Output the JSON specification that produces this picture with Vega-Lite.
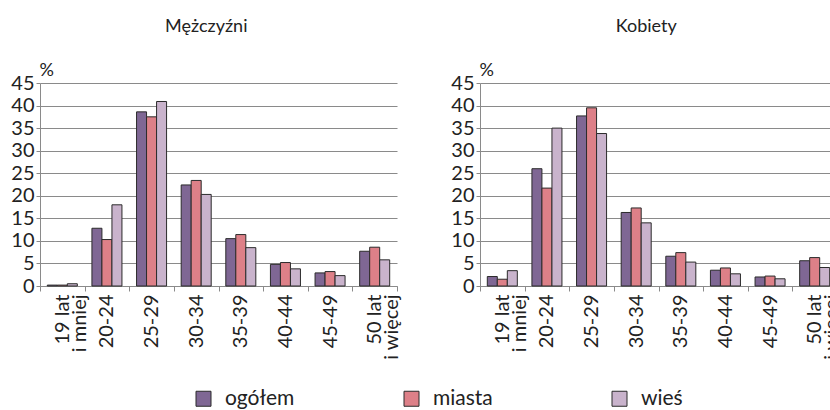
{
  "$schema": "https://vega.github.io/schema/vega-lite/v6.json",
  "padding": {"left": 10, "top": 18, "right": 0, "bottom": 0},
  "background": "white",
  "data": {"values": [
    {"plec": "Mężczyźni", "wiek": "19 lat\ni mniej", "grupa": "ogółem", "wartosc": 0.2},
    {"plec": "Mężczyźni", "wiek": "19 lat\ni mniej", "grupa": "miasta", "wartosc": 0.2},
    {"plec": "Mężczyźni", "wiek": "19 lat\ni mniej", "grupa": "wieś", "wartosc": 0.5},
    {"plec": "Mężczyźni", "wiek": "20-24", "grupa": "ogółem", "wartosc": 12.8},
    {"plec": "Mężczyźni", "wiek": "20-24", "grupa": "miasta", "wartosc": 10.3},
    {"plec": "Mężczyźni", "wiek": "20-24", "grupa": "wieś", "wartosc": 18.0},
    {"plec": "Mężczyźni", "wiek": "25-29", "grupa": "ogółem", "wartosc": 38.6},
    {"plec": "Mężczyźni", "wiek": "25-29", "grupa": "miasta", "wartosc": 37.5},
    {"plec": "Mężczyźni", "wiek": "25-29", "grupa": "wieś", "wartosc": 40.9},
    {"plec": "Mężczyźni", "wiek": "30-34", "grupa": "ogółem", "wartosc": 22.4},
    {"plec": "Mężczyźni", "wiek": "30-34", "grupa": "miasta", "wartosc": 23.4},
    {"plec": "Mężczyźni", "wiek": "30-34", "grupa": "wieś", "wartosc": 20.3},
    {"plec": "Mężczyźni", "wiek": "35-39", "grupa": "ogółem", "wartosc": 10.5},
    {"plec": "Mężczyźni", "wiek": "35-39", "grupa": "miasta", "wartosc": 11.4},
    {"plec": "Mężczyźni", "wiek": "35-39", "grupa": "wieś", "wartosc": 8.5},
    {"plec": "Mężczyźni", "wiek": "40-44", "grupa": "ogółem", "wartosc": 4.8},
    {"plec": "Mężczyźni", "wiek": "40-44", "grupa": "miasta", "wartosc": 5.2},
    {"plec": "Mężczyźni", "wiek": "40-44", "grupa": "wieś", "wartosc": 3.8},
    {"plec": "Mężczyźni", "wiek": "45-49", "grupa": "ogółem", "wartosc": 2.9},
    {"plec": "Mężczyźni", "wiek": "45-49", "grupa": "miasta", "wartosc": 3.2},
    {"plec": "Mężczyźni", "wiek": "45-49", "grupa": "wieś", "wartosc": 2.3},
    {"plec": "Mężczyźni", "wiek": "50 lat\ni więcej", "grupa": "ogółem", "wartosc": 7.7},
    {"plec": "Mężczyźni", "wiek": "50 lat\ni więcej", "grupa": "miasta", "wartosc": 8.6},
    {"plec": "Mężczyźni", "wiek": "50 lat\ni więcej", "grupa": "wieś", "wartosc": 5.8},
    {"plec": "Kobiety", "wiek": "19 lat\ni mniej", "grupa": "ogółem", "wartosc": 2.1},
    {"plec": "Kobiety", "wiek": "19 lat\ni mniej", "grupa": "miasta", "wartosc": 1.5},
    {"plec": "Kobiety", "wiek": "19 lat\ni mniej", "grupa": "wieś", "wartosc": 3.4},
    {"plec": "Kobiety", "wiek": "20-24", "grupa": "ogółem", "wartosc": 26.0},
    {"plec": "Kobiety", "wiek": "20-24", "grupa": "miasta", "wartosc": 21.7},
    {"plec": "Kobiety", "wiek": "20-24", "grupa": "wieś", "wartosc": 35.0},
    {"plec": "Kobiety", "wiek": "25-29", "grupa": "ogółem", "wartosc": 37.7},
    {"plec": "Kobiety", "wiek": "25-29", "grupa": "miasta", "wartosc": 39.5},
    {"plec": "Kobiety", "wiek": "25-29", "grupa": "wieś", "wartosc": 33.8},
    {"plec": "Kobiety", "wiek": "30-34", "grupa": "ogółem", "wartosc": 16.3},
    {"plec": "Kobiety", "wiek": "30-34", "grupa": "miasta", "wartosc": 17.3},
    {"plec": "Kobiety", "wiek": "30-34", "grupa": "wieś", "wartosc": 14.0},
    {"plec": "Kobiety", "wiek": "35-39", "grupa": "ogółem", "wartosc": 6.6},
    {"plec": "Kobiety", "wiek": "35-39", "grupa": "miasta", "wartosc": 7.4},
    {"plec": "Kobiety", "wiek": "35-39", "grupa": "wieś", "wartosc": 5.3},
    {"plec": "Kobiety", "wiek": "40-44", "grupa": "ogółem", "wartosc": 3.5},
    {"plec": "Kobiety", "wiek": "40-44", "grupa": "miasta", "wartosc": 4.0},
    {"plec": "Kobiety", "wiek": "40-44", "grupa": "wieś", "wartosc": 2.7},
    {"plec": "Kobiety", "wiek": "45-49", "grupa": "ogółem", "wartosc": 2.0},
    {"plec": "Kobiety", "wiek": "45-49", "grupa": "miasta", "wartosc": 2.2},
    {"plec": "Kobiety", "wiek": "45-49", "grupa": "wieś", "wartosc": 1.6},
    {"plec": "Kobiety", "wiek": "50 lat\ni więcej", "grupa": "ogółem", "wartosc": 5.6},
    {"plec": "Kobiety", "wiek": "50 lat\ni więcej", "grupa": "miasta", "wartosc": 6.3},
    {"plec": "Kobiety", "wiek": "50 lat\ni więcej", "grupa": "wieś", "wartosc": 4.1}
  ]},
  "spacing": 48,
  "hconcat": [
    {
      "title": {"text": "Mężczyźni", "frame": "bounds", "anchor": "middle"},
      "width": 357,
      "height": 203,
      "transform": [{"filter": "datum.plec === 'Mężczyźni'"}],
      "mark": {"type": "bar", "stroke": "#2b2b2b", "strokeWidth": 1},
      "encoding": {
        "x": {"field": "wiek", "type": "nominal", "sort": ["19 lat\ni mniej", "20-24", "25-29", "30-34", "35-39", "40-44", "45-49", "50 lat\ni więcej"], "scale": {"paddingInner": 0, "paddingOuter": 0}, "axis": {"title": null, "labelAngle": -90, "tickBand": "extent", "labelExpr": "split(datum.label, '\\n')"}},
        "xOffset": {"field": "grupa", "type": "nominal", "sort": ["ogółem", "miasta", "wieś"], "scale": {"paddingInner": 0, "paddingOuter": 0.73}},
        "y": {"field": "wartosc", "type": "quantitative", "scale": {"domain": [0, 45], "nice": false}, "axis": {"title": "%", "values": [0, 5, 10, 15, 20, 25, 30, 35, 40, 45]}},
        "color": {"field": "grupa", "type": "nominal", "sort": ["ogółem", "miasta", "wieś"], "scale": {"domain": ["ogółem", "miasta", "wieś"], "range": ["#7f6794", "#dd8088", "#c9b3cc"]}, "legend": {"title": null, "orient": "none", "legendX": 153, "legendY": 305, "direction": "horizontal", "columns": 3, "gridAlign": "all", "columnPadding": 106}}
      }
    },
    {
      "title": {"text": "Kobiety", "frame": "bounds", "anchor": "middle"},
      "width": 357,
      "height": 203,
      "transform": [{"filter": "datum.plec === 'Kobiety'"}],
      "mark": {"type": "bar", "stroke": "#2b2b2b", "strokeWidth": 1},
      "encoding": {
        "x": {"field": "wiek", "type": "nominal", "sort": ["19 lat\ni mniej", "20-24", "25-29", "30-34", "35-39", "40-44", "45-49", "50 lat\ni więcej"], "scale": {"paddingInner": 0, "paddingOuter": 0}, "axis": {"title": null, "labelAngle": -90, "tickBand": "extent", "labelExpr": "split(datum.label, '\\n')"}},
        "xOffset": {"field": "grupa", "type": "nominal", "sort": ["ogółem", "miasta", "wieś"], "scale": {"paddingInner": 0, "paddingOuter": 0.73}},
        "y": {"field": "wartosc", "type": "quantitative", "scale": {"domain": [0, 45], "nice": false}, "axis": {"title": "%", "values": [0, 5, 10, 15, 20, 25, 30, 35, 40, 45]}},
        "color": {"field": "grupa", "type": "nominal", "sort": ["ogółem", "miasta", "wieś"], "scale": {"domain": ["ogółem", "miasta", "wieś"], "range": ["#7f6794", "#dd8088", "#c9b3cc"]}, "legend": {"title": null, "orient": "none", "legendX": 153, "legendY": 305, "direction": "horizontal", "columns": 3, "gridAlign": "all", "columnPadding": 106}}
      }
    }
  ],
  "config": {
    "font": "Lato",
    "view": {"stroke": null},
    "title": {"fontSize": 18, "fontWeight": "normal", "color": "#222", "offset": 25, "font": "Lato"},
    "axis": {"labelFont": "Lato", "labelFontSize": 20, "labelColor": "#222", "domainColor": "#8a8a8a", "tickColor": "#8a8a8a", "gridColor": "#8a8a8a", "gridWidth": 1.2, "labelLineHeight": 17},
    "axisY": {"grid": true, "tickSize": 4, "labelPadding": 2, "titleAngle": 0, "titleAlign": "left", "titleBaseline": "bottom", "titleX": -1, "titleY": -4, "titleFontSize": 18, "titleFontWeight": "normal", "titleColor": "#222", "titleFont": "Lato"},
    "axisX": {"grid": false, "tickSize": 5, "labelPadding": 3, "labelAlign": "right", "labelBaseline": "middle"},
    "legend": {"symbolType": "square", "symbolSize": 225, "symbolStrokeColor": "#2b2b2b", "symbolStrokeWidth": 1, "labelFontSize": 21, "labelFont": "Lato", "labelColor": "#222", "labelOffset": 11}
  }
}
